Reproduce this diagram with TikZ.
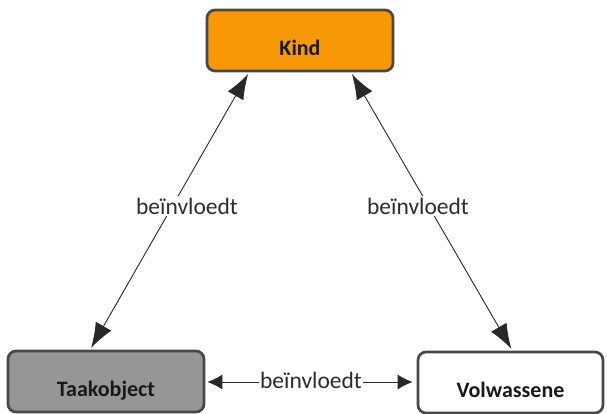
\documentclass[tikz,border=0pt]{standalone}
\usepackage{fontspec}
\setmainfont{Carlito}
\usetikzlibrary{arrows.meta,calc}
\definecolor{kindorange}{RGB}{247,153,5}
\definecolor{taakgray}{RGB}{150,150,150}
\definecolor{boxborder}{RGB}{72,72,72}
\definecolor{linegray}{RGB}{40,40,40}
\definecolor{labelgray}{RGB}{45,45,45}
\begin{document}
\begin{tikzpicture}[x=1pt,y=1pt,
  box/.style={draw=boxborder, line width=2.7pt, rounded corners=8pt, inner sep=0pt,
    text height=45pt, text depth=16pt, align=center,
    font=\fontsize{22}{26}\selectfont\bfseries, text={rgb,255:red,25;green,25;blue,25}},
  lbl/.style={fill=white, inner sep=1.5pt, anchor=base, text=labelgray,
    font=\fontsize{23.5}{27}\selectfont},
  conn/.style={draw=linegray, line width=0.9pt}
]
\useasboundingbox (0,0) rectangle (607,-413);
\node[box, fill=kindorange, minimum width=186pt] (kind) at (300,-40.5) {Kind};
\node[box, fill=taakgray, minimum width=196pt] (taak) at (106,-381.5) {Taakobject};
\node[box, fill=white, minimum width=185pt] (volw) at (510.5,-382.5) {Volwassene};

\coordinate (kl) at ($(kind.south west)!0.23!(kind.south east)$);
\coordinate (kr) at ($(kind.south west)!0.77!(kind.south east)$);
\coordinate (tt) at ($(taak.north west)!0.42!(taak.north east)$);
\coordinate (vt) at ($(volw.north west)!0.51!(volw.north east)$);

\draw[conn, {Latex[length=25pt,width=18pt]}-{Latex[length=25pt,width=18pt]}, shorten <=2pt, shorten >=2pt] (kl) -- (tt);
\draw[conn, {Latex[length=25pt,width=18pt]}-{Latex[length=25pt,width=18pt]}, shorten <=2pt, shorten >=2pt] (kr) -- (vt);
\draw[conn, {Latex[length=15pt,width=15pt]}-{Latex[length=15pt,width=15pt]}, shorten <=2pt, shorten >=4pt] (taak.east |- 0,-382) -- (volw.west |- 0,-382);

\node[lbl] (l1) at (187,-214) {beïnvloedt};
\node[lbl] (l2) at (418,-214) {beïnvloedt};
\node[lbl] (l3) at (311,-388) {beïnvloedt};
\end{tikzpicture}
\end{document}
